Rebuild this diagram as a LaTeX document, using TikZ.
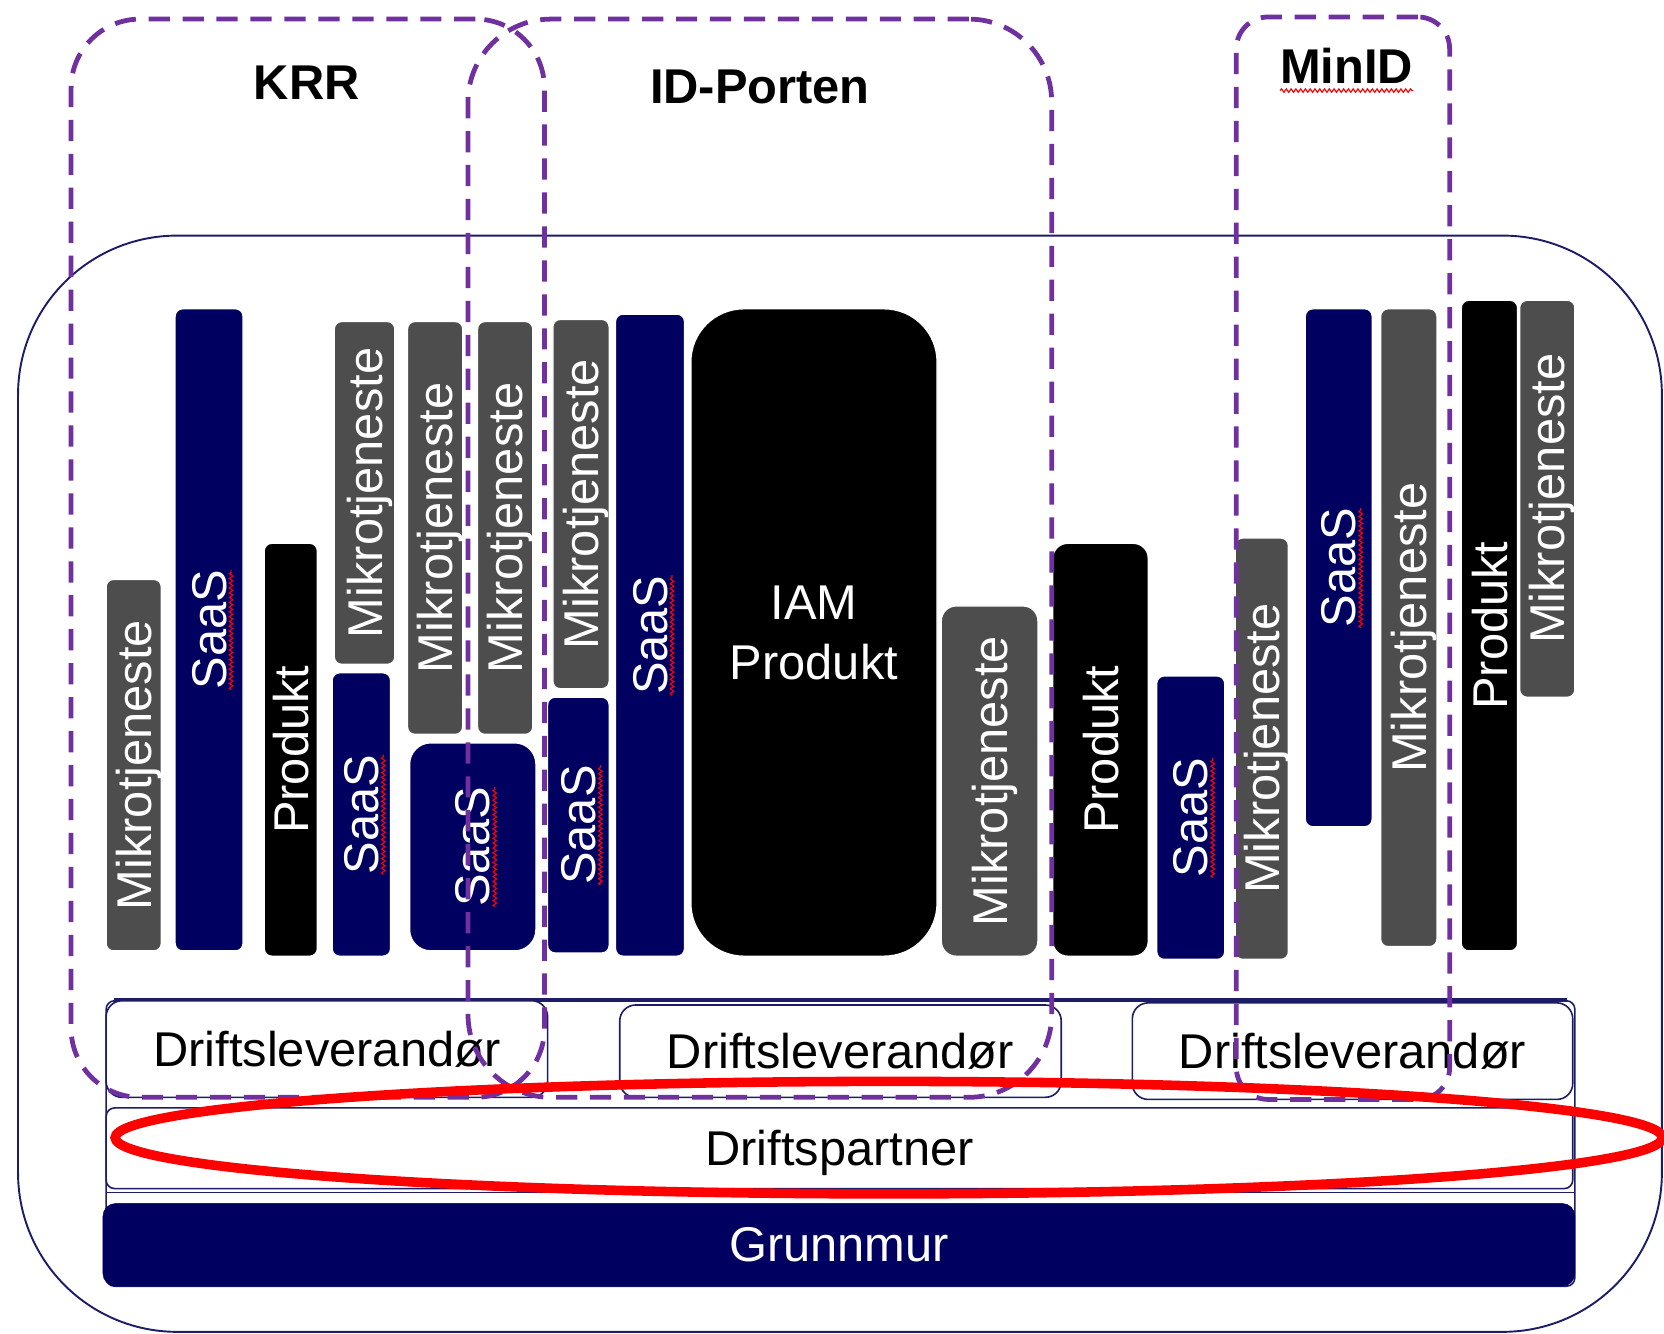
\documentclass[tikz,border=0pt]{standalone}
\usepackage{fontspec}
\setmainfont{Liberation Sans}
\usetikzlibrary{decorations.pathmorphing}
\definecolor{navy}{RGB}{0,0,96}
\definecolor{framenavy}{RGB}{28,28,104}
\definecolor{msgray}{RGB}{77,77,77}
\definecolor{grpurple}{RGB}{112,48,160}
\newcommand\dfont{\fontsize{46}{57}\selectfont}
\newcommand\boxat[6]{%
  \pgfmathsetmacro\bxw{#4-#2}\pgfmathsetmacro\bxh{#5-#3}%
  \node[#6, minimum width=\bxw pt, minimum height=\bxh pt] (#1) at ({(#2+#4)/2},{(#3+#5)/2}) {};}
\tikzset{
  barbox/.style={inner sep=0pt, draw=white, line width=1.2pt, rounded corners=7pt},
  msbar/.style={barbox, fill=msgray},
  saasbar/.style={barbox, fill=navy},
  prodbar/.style={barbox, fill=black},
  bartext/.style={rotate=90, inner sep=0pt, text depth=0pt, text=white, font=\dfont},
  squig/.style={draw=red, line width=1.1pt, decorate, decoration={snake, amplitude=1.6pt, segment length=4.5pt}},
  grp/.style={draw=grpurple, line width=4.5pt, dash pattern=on 20pt off 12pt, inner sep=0pt},
  title/.style={inner sep=0pt, text depth=0pt, font=\dfont\bfseries},
  rowbox/.style={draw=framenavy, line width=1.5pt, fill=white, rounded corners=15pt, inner sep=0pt},
  rowtext/.style={inner sep=0pt, text depth=0pt, font=\dfont},
}
\begin{document}
\begin{tikzpicture}[x=1pt, y=-1pt]
\useasboundingbox (0,0) rectangle (1568,1257);
% outer frame
\boxat{outer}{17}{222}{1566}{1255}{draw=framenavy, line width=1.8pt, rounded corners=150pt, inner sep=0pt}
% bars
\boxat{b1}{100}{546}{152}{896}{msbar}
\node[bartext] (b1t) at (b1) {Mikrotjeneste};
\boxat{b2}{165}{291}{229}{896}{saasbar}
\node[bartext] (b2t) at (b2) {SaaS};
\boxat{b3}{249}{512}{299}{901}{prodbar}
\node[bartext] (b3t) at (b3) {Produkt};
\boxat{b4}{315}{303}{372}{626}{msbar}
\node[bartext] (b4t) at (b4) {Mikrotjeneste};
\boxat{b5}{313}{634}{368}{901}{saasbar}
\node[bartext] (b5t) at (b5) {SaaS};
\boxat{b6}{384}{303}{436}{692}{msbar}
\node[bartext] (b6t) at (b6) {Mikrotjeneste};
\boxat{b7}{386}{700}{505}{896}{saasbar, rounded corners=20pt}
\node[bartext] (b7t) at (b7) {SaaS};
\boxat{b8}{450}{303}{502}{692}{msbar}
\node[bartext] (b8t) at (b8) {Mikrotjeneste};
\boxat{b9}{521}{301}{574}{649}{msbar}
\node[bartext] (b9t) at (b9) {Mikrotjeneste};
\boxat{b10}{516}{657}{574}{898}{saasbar}
\node[bartext] (b10t) at (b10) {SaaS};
\boxat{b11}{580}{296}{645}{901}{saasbar}
\node[bartext] (b11t) at (b11) {SaaS};
\boxat{iam}{651}{291}{883}{901}{prodbar, rounded corners=50pt}
\node[inner sep=0pt, text depth=0pt, text=white, font=\dfont, align=center] (iamt) at (iam) {IAM\\Produkt};
\boxat{b13}{887}{571}{978}{901}{msbar, rounded corners=14pt}
\node[bartext] (b13t) at (b13) {Mikrotjeneste};
\boxat{b14}{992}{512}{1082}{901}{prodbar, rounded corners=14pt}
\node[bartext] (b14t) at (b14) {Produkt};
\boxat{b15}{1090}{637}{1154}{904}{saasbar}
\node[bartext] (b15t) at (b15) {SaaS};
\boxat{b16}{1164}{507}{1214}{904}{msbar}
\node[bartext] (b16t) at (b16) {Mikrotjeneste};
\boxat{b17}{1230}{291}{1293}{779}{saasbar}
\node[bartext] (b17t) at (b17) {SaaS};
\boxat{b18}{1301}{291}{1354}{892}{msbar}
\node[bartext] (b18t) at (b18) {Mikrotjeneste};
\boxat{b19}{1377}{283}{1430}{896}{prodbar}
\node[bartext] (b19t) at (b19) {Produkt};
\boxat{b20}{1432}{283}{1484}{657}{msbar}
\node[bartext] (b20t) at (b20) {Mikrotjeneste};
% spell-check squiggles on SaaS
\foreach \s in {b2t,b5t,b7t,b10t,b11t,b15t,b17t}{
  \draw[squig] ([xshift=4.5pt]\s.south west) -- ([xshift=4.5pt]\s.south east);
}
% platform
\boxat{plat}{100}{943}{1484}{1212}{draw=framenavy, line width=1.5pt, rounded corners=8pt, inner sep=0pt}
\draw[framenavy, line width=3pt] ([xshift=8pt]plat.north west) -- ([xshift=-8pt]plat.north east);
\boxat{dl1}{100}{943}{516}{1034}{rowbox}
\node[rowtext] (dl1t) at (dl1) {Driftsleverandør};
\boxat{dl2}{584}{947}{1000}{1034}{rowbox}
\node[rowtext] (dl2t) at (dl2) {Driftsleverandør};
\boxat{dl3}{1067}{945}{1482}{1036}{rowbox}
\node[rowtext] (dl3t) at (dl3) {Driftsleverandør};
\boxat{dp}{100}{1044}{1482}{1120}{rowbox, rounded corners=8pt}
\node[rowtext] (dpt) at (dp) {Driftspartner};
\coordinate (sepL) at (100,1124);
\coordinate (sepR) at (1484,1124);
\draw[framenavy, line width=1pt] (sepL) -- (sepR);
\boxat{gm}{97}{1134}{1484}{1212}{fill=navy, draw=navy, rounded corners=12pt, inner sep=0pt}
\node[rowtext, text=white] (gmt) at (gm) {Grunnmur};
% dashed groups
\boxat{krr}{67}{18}{513}{1034}{grp, rounded corners=65pt}
\boxat{idp}{441}{18}{991}{1034}{grp, rounded corners=78pt}
\boxat{minid}{1165}{16}{1366}{1036}{grp, rounded corners=30pt}
\node[title] (krrt) at (289,78) {KRR};
\node[title] (idpt) at (716,82) {ID-Porten};
\node[title] (minidt) at (1269,62) {MinID};
\draw[squig] ([yshift=-6.5pt]minidt.south west) -- ([yshift=-6.5pt]minidt.south east);
% red ellipse
\draw[red, line width=9pt] (837.5,1072) ellipse [x radius=729pt, y radius=53pt];
\end{tikzpicture}
\end{document}
